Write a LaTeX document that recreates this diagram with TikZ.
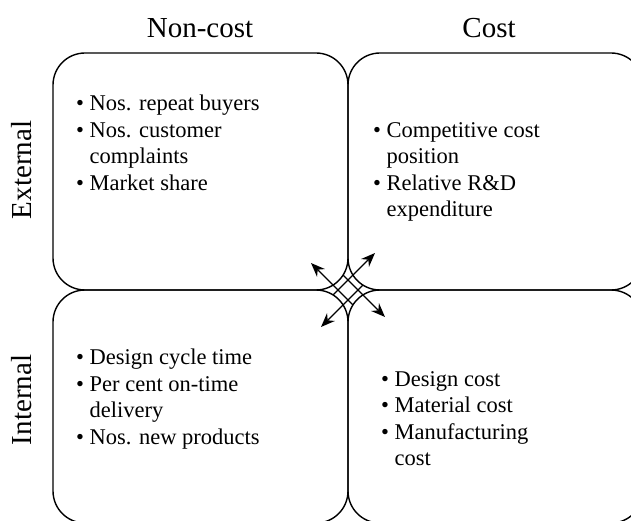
\documentclass[tikz,border=0pt]{standalone}
\usepackage{fontspec}
\setmainfont{Liberation Serif}
\usetikzlibrary{arrows.meta}
\begin{document}
\begin{tikzpicture}[x=1pt,y=-1pt,
  box/.style={draw=black,line width=1.4pt,rounded corners=32pt},
  head/.style={font=\fontsize{29}{34}\selectfont},
  side/.style={font=\fontsize{29}{34}\selectfont,rotate=90},
  list/.style={font=\fontsize{22.5}{26.5}\selectfont,align=left,anchor=north west,inner sep=0pt},
  arr/.style={line width=1.4pt,-{Stealth[length=14pt,width=11pt]}}]
\useasboundingbox (0,0) rectangle (631,521);
\begin{scope}
\clip (0,0) rectangle (631,521);
\draw[box] (53,53) rectangle (348,290);
\draw[box] (348,53) rectangle (643,290);
\draw[box] (53,290) rectangle (348,523);
\draw[box] (348,290) rectangle (643,523);
\end{scope}
\node[head] (nc) at (200,28) {Non-cost};
\node[head] (c) at (489,28) {Cost};
\node[side] (ext) at (22,170) {External};
\node[side] (int) at (22,400) {Internal};
\node[list] (tl) at (76,95) {\textbullet\ Nos. repeat buyers\\\textbullet\ Nos. customer\\\phantom{\textbullet\ }complaints\\\textbullet\ Market share};
\node[list] (tr) at (373,122) {\textbullet\ Competitive cost\\\phantom{\textbullet\ }position\\\textbullet\ Relative R\&D\\\phantom{\textbullet\ }expenditure};
\node[list] (bl) at (76,349) {\textbullet\ Design cycle time\\\textbullet\ Per cent on-time\\\phantom{\textbullet\ }delivery\\\textbullet\ Nos. new products};
\node[list] (br) at (381,371) {\textbullet\ Design cost\\\textbullet\ Material cost\\\textbullet\ Manufacturing\\\phantom{\textbullet\ }cost};
\coordinate (s1) at (353,305); \coordinate (t1) at (311,263);
\coordinate (s2) at (333,295); \coordinate (t2) at (375,253);
\coordinate (s3) at (343,275); \coordinate (t3) at (385,317);
\coordinate (s4) at (363,285); \coordinate (t4) at (321,327);
\draw[arr] (s1) -- (t1);
\draw[arr] (s2) -- (t2);
\draw[arr] (s3) -- (t3);
\draw[arr] (s4) -- (t4);
\end{tikzpicture}
\end{document}
